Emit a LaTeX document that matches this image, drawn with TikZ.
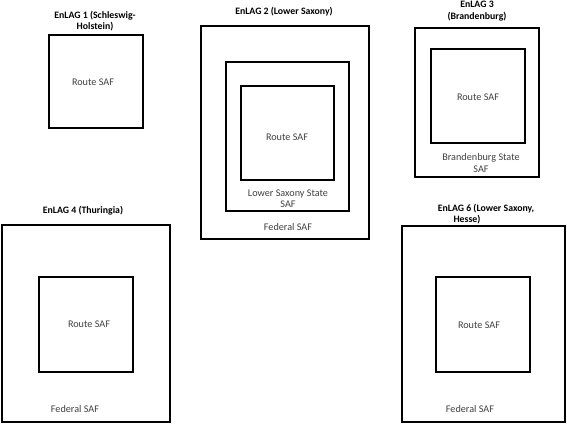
\documentclass[tikz,border=0pt]{standalone}
\usepackage{fontspec}
\setmainfont{Carlito}
\begin{document}
\begin{tikzpicture}[x=1pt,y=-1pt,
  frame/.style={draw=black,line width=1.8pt},
  lbl/.style={text=black!75,font=\fontsize{10.2}{11.5}\selectfont,inner sep=0pt,align=center},
  ttl/.style={text=black,font=\bfseries\fontsize{9.8}{11.5}\selectfont,inner sep=0pt,align=center}]
\useasboundingbox (0,0) rectangle (567,425);
% EnLAG 1
\draw[frame] (49,35) rectangle (143,128);
\node[ttl] (t1) at (95,21) {EnLAG 1 (Schleswig-\\Holstein)};
\node[lbl] (r1) at (93,82) {Route SAF};
% EnLAG 2
\draw[frame] (201,26) rectangle (369,239);
\draw[frame] (226,62) rectangle (349,211);
\draw[frame] (241,86) rectangle (334,180);
\node[ttl] (t2) at (284,12) {EnLAG 2 (Lower Saxony)};
\node[lbl] (r2) at (287,137) {Route SAF};
\node[lbl] (s2) at (288,198.5) {Lower Saxony State\\SAF};
\node[lbl] (f2) at (288,227) {Federal SAF};
% EnLAG 3
\draw[frame] (415,28) rectangle (539,177);
\draw[frame] (431,49) rectangle (525,143);
\node[ttl] (t3) at (477,11) {EnLAG 3\\(Brandenburg)};
\node[lbl] (r3) at (478,97) {Route SAF};
\node[lbl] (s3) at (481,163) {Brandenburg State\\SAF};
% EnLAG 4
\draw[frame] (2,225) rectangle (170,422);
\draw[frame] (39,277) rectangle (133,372);
\node[ttl] (t4) at (83,211) {EnLAG 4 (Thuringia)};
\node[lbl] (r4) at (89,324) {Route SAF};
\node[lbl] (f4) at (75,409) {Federal SAF};
% EnLAG 6
\draw[frame] (402,226) rectangle (565,422);
\draw[frame] (436,277) rectangle (530,372);
\node[ttl] (t6a) at (486,209) {EnLAG 6 (Lower Saxony,};
\node[ttl] (t6b) at (467,220) {Hesse)};
\node[lbl] (r6) at (479,325) {Route SAF};
\node[lbl] (f6) at (470,409) {Federal SAF};
\end{tikzpicture}
\end{document}
